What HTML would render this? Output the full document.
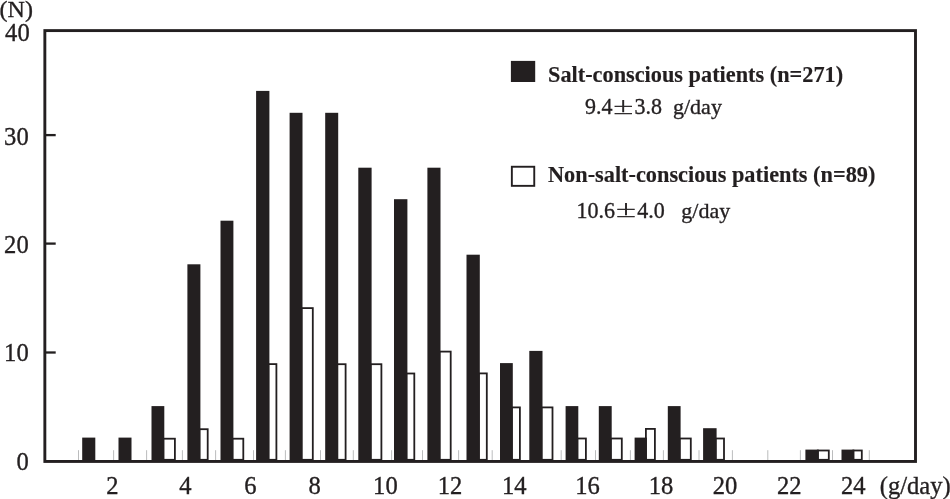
<!DOCTYPE html>
<html><head><meta charset="utf-8"><title>Salt intake distribution</title>
<style>
html,body{margin:0;padding:0;background:#fff;}
body{width:950px;height:499px;overflow:hidden;}
svg{display:block;}
text{font-family:"Liberation Serif","Noto Serif CJK SC",serif;fill:#231f20;stroke:#231f20;stroke-width:0.35px;}
.a{font-size:24.6px;}
.l{font-size:22px;}
.b{font-size:22.3px;font-weight:bold;stroke-width:0.15px;}
.pm{font-family:"Noto Serif CJK SC",serif;stroke-width:0.9px;}
</style></head><body>
<svg width="950" height="499" viewBox="0 0 950 499">
<rect x="0" y="0" width="950" height="499" fill="#fff"/>
<g stroke="#77787b" stroke-width="0.5">
<line x1="78.5" y1="450.2" x2="78.5" y2="460.5"/>
<line x1="113.6" y1="450.2" x2="113.6" y2="460.5"/>
<line x1="146.6" y1="450.2" x2="146.6" y2="460.5"/>
<line x1="182.4" y1="450.2" x2="182.4" y2="460.5"/>
<line x1="215.6" y1="450.2" x2="215.6" y2="460.5"/>
<line x1="253.5" y1="450.2" x2="253.5" y2="460.5"/>
<line x1="285.4" y1="450.2" x2="285.4" y2="460.5"/>
<line x1="320.5" y1="450.2" x2="320.5" y2="460.5"/>
<line x1="353.3" y1="450.2" x2="353.3" y2="460.5"/>
<line x1="391.6" y1="450.2" x2="391.6" y2="460.5"/>
<line x1="422.5" y1="450.2" x2="422.5" y2="460.5"/>
<line x1="458.6" y1="450.2" x2="458.6" y2="460.5"/>
<line x1="492.2" y1="450.2" x2="492.2" y2="460.5"/>
<line x1="561.2" y1="450.2" x2="561.2" y2="460.5"/>
<line x1="595.5" y1="450.2" x2="595.5" y2="460.5"/>
<line x1="630.4" y1="450.2" x2="630.4" y2="460.5"/>
<line x1="663.4" y1="450.2" x2="663.4" y2="460.5"/>
<line x1="699" y1="450.2" x2="699" y2="460.5"/>
<line x1="732.4" y1="450.2" x2="732.4" y2="460.5"/>
<line x1="767.8" y1="450.2" x2="767.8" y2="460.5"/>
<line x1="800.4" y1="450.2" x2="800.4" y2="460.5"/>
<line x1="832.5" y1="450.2" x2="832.5" y2="460.5"/>
<line x1="869.3" y1="450.2" x2="869.3" y2="460.5"/>
</g>
<g fill="#fff" stroke="#231f20" stroke-width="1.8">
<rect x="163.30" y="438.70" width="11.60" height="21.10"/>
<rect x="199.40" y="429.20" width="8.30" height="30.60"/>
<rect x="232.40" y="438.70" width="10.90" height="21.10"/>
<rect x="268.40" y="364.10" width="8.00" height="95.70"/>
<rect x="301.50" y="308.10" width="11.30" height="151.70"/>
<rect x="337.20" y="364.20" width="8.40" height="95.60"/>
<rect x="370.60" y="364.20" width="10.80" height="95.60"/>
<rect x="406.40" y="373.50" width="7.90" height="86.30"/>
<rect x="439.50" y="351.60" width="11.20" height="108.20"/>
<rect x="478.80" y="373.40" width="8.00" height="86.40"/>
<rect x="511.80" y="407.40" width="8.10" height="52.40"/>
<rect x="541.50" y="407.40" width="11.00" height="52.40"/>
<rect x="577.30" y="438.50" width="8.60" height="21.30"/>
<rect x="610.70" y="438.50" width="11.10" height="21.30"/>
<rect x="645.90" y="428.90" width="9.00" height="30.90"/>
<rect x="679.60" y="438.50" width="11.20" height="21.30"/>
<rect x="715.60" y="438.50" width="8.40" height="21.30"/>
<rect x="817.80" y="450.50" width="11.00" height="9.30"/>
<rect x="853.30" y="450.50" width="8.50" height="9.30"/>
</g>
<g fill="#231f20">
<rect x="82.20" y="437.60" width="13.10" height="23.40"/>
<rect x="118.50" y="437.60" width="13.00" height="23.40"/>
<rect x="151.50" y="406.10" width="12.80" height="54.90"/>
<rect x="187.40" y="264.30" width="13.00" height="196.70"/>
<rect x="220.50" y="220.70" width="12.90" height="240.30"/>
<rect x="256.10" y="90.90" width="13.30" height="370.10"/>
<rect x="289.60" y="112.80" width="12.90" height="348.20"/>
<rect x="325.20" y="112.80" width="13.00" height="348.20"/>
<rect x="358.30" y="167.70" width="13.30" height="293.30"/>
<rect x="394.00" y="199.20" width="13.40" height="261.80"/>
<rect x="427.40" y="167.70" width="13.10" height="293.30"/>
<rect x="466.50" y="254.70" width="13.30" height="206.30"/>
<rect x="500.00" y="363.10" width="12.80" height="97.90"/>
<rect x="529.30" y="350.90" width="13.20" height="110.10"/>
<rect x="565.60" y="406.10" width="12.70" height="54.90"/>
<rect x="598.80" y="406.10" width="12.90" height="54.90"/>
<rect x="634.60" y="437.60" width="12.30" height="23.40"/>
<rect x="667.80" y="406.10" width="12.80" height="54.90"/>
<rect x="703.10" y="428.20" width="13.50" height="32.80"/>
<rect x="805.40" y="449.60" width="13.40" height="11.40"/>
<rect x="841.50" y="449.60" width="12.80" height="11.40"/>
</g>
<rect x="44.85" y="30.6" width="870.65" height="430.85" fill="none" stroke="#231f20" stroke-width="2.9"/>
<g stroke="#231f20" stroke-width="2.3">
<line x1="46" y1="135.1" x2="55.7" y2="135.1"/>
<line x1="46" y1="243.6" x2="55.7" y2="243.6"/>
<line x1="46" y1="352.5" x2="55.7" y2="352.5"/>
</g>
<rect x="510.9" y="60.9" width="24.3" height="21.1" fill="#231f20"/>
<rect x="511.85" y="166.75" width="22.4" height="19.1" fill="#fff" stroke="#231f20" stroke-width="1.9"/>
<text class="b" x="548" y="82.4">Salt-conscious patients (n=271)</text>
<text class="l" transform="translate(585,113.9) scale(1,1.09)">9.4</text>
<text class="l pm" transform="translate(612.3,113.6) scale(1,0.79)">±</text>
<text class="l" transform="translate(634.5,113.9) scale(1,1.09)">3.8</text>
<text class="l" x="673" y="113.9">g/day</text>
<text class="b" x="548" y="181.6">Non-salt-conscious patients (n=89)</text>
<text class="l" transform="translate(576.5,217.6) scale(1,1.09)">10.6</text>
<text class="l pm" transform="translate(615,217.3) scale(1,0.79)">±</text>
<text class="l" transform="translate(637.2,217.6) scale(1,1.09)">4.0</text>
<text class="l" x="681.3" y="217.6">g/day</text>
<text class="a" style="font-size:24px" transform="translate(-0.4,17.4) scale(1,1.0)">(N)</text>
<text class="a" transform="translate(29.7,41.1) scale(1,1.0)" text-anchor="end">40</text>
<text class="a" transform="translate(28.7,145) scale(1,1.045)" text-anchor="end">30</text>
<text class="a" transform="translate(28.7,252.9) scale(1,1.045)" text-anchor="end">20</text>
<text class="a" transform="translate(28.7,361.3) scale(1,1.045)" text-anchor="end">10</text>
<text class="a" transform="translate(28.7,469.8) scale(1,1.045)" text-anchor="end">0</text>
<text class="a" transform="translate(112.5,493.7) scale(1,1.055)" text-anchor="middle">2</text>
<text class="a" transform="translate(185.5,493.7) scale(1,1.055)" text-anchor="middle">4</text>
<text class="a" transform="translate(250.4,493.7) scale(1,1.055)" text-anchor="middle">6</text>
<text class="a" transform="translate(314.6,493.7) scale(1,1.055)" text-anchor="middle">8</text>
<text class="a" transform="translate(385.4,493.7) scale(1,1.055)" text-anchor="middle">10</text>
<text class="a" transform="translate(450,493.7) scale(1,1.055)" text-anchor="middle">12</text>
<text class="a" transform="translate(514.2,493.7) scale(1,1.055)" text-anchor="middle">14</text>
<text class="a" transform="translate(587.6,493.7) scale(1,1.055)" text-anchor="middle">16</text>
<text class="a" transform="translate(661.1,493.7) scale(1,1.055)" text-anchor="middle">18</text>
<text class="a" transform="translate(725,493.7) scale(1,1.055)" text-anchor="middle">20</text>
<text class="a" transform="translate(789.3,493.7) scale(1,1.055)" text-anchor="middle">22</text>
<text class="a" transform="translate(853.3,493.7) scale(1,1.055)" text-anchor="middle">24</text>
<text class="a" transform="translate(879.7,493.8) scale(1,1.04)">(g/day)</text>
</svg></body></html>
